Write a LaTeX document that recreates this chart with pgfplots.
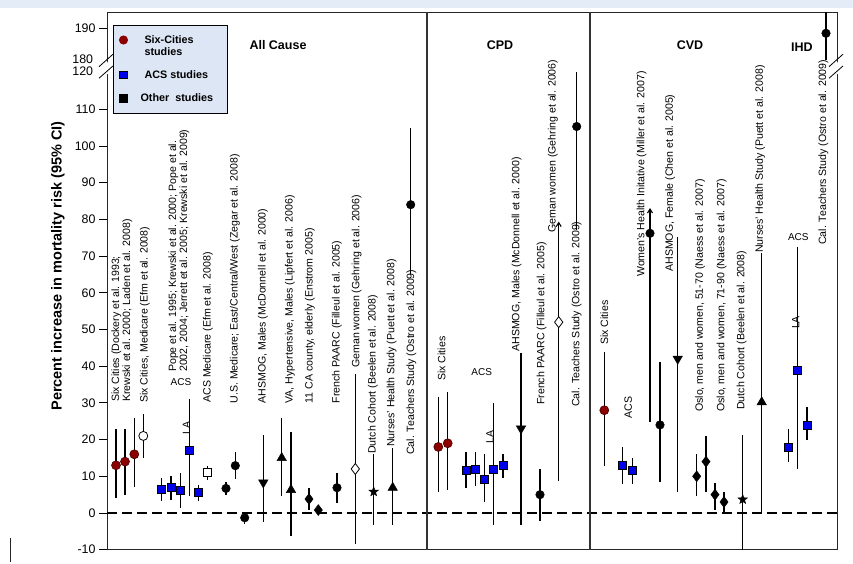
\documentclass[border=0pt]{standalone}
\usepackage{pgfplots}
\pgfplotsset{compat=1.18}
\usepackage{fontspec}
\setmainfont{Liberation Sans}
\usetikzlibrary{arrows.meta}
\definecolor{sixred}{RGB}{140,0,0}
\definecolor{acsblue}{RGB}{0,0,235}
\definecolor{legfill}{RGB}{220,230,244}
\definecolor{topstrip}{RGB}{228,236,248}
\pgfdeclareplotmark{fstar}{%
  \pgfpathmoveto{\pgfqpointpolar{90}{\pgfplotmarksize}}%
  \pgfpathlineto{\pgfqpointpolar{126}{0.42\pgfplotmarksize}}%
  \pgfpathlineto{\pgfqpointpolar{162}{\pgfplotmarksize}}%
  \pgfpathlineto{\pgfqpointpolar{198}{0.42\pgfplotmarksize}}%
  \pgfpathlineto{\pgfqpointpolar{234}{\pgfplotmarksize}}%
  \pgfpathlineto{\pgfqpointpolar{270}{0.42\pgfplotmarksize}}%
  \pgfpathlineto{\pgfqpointpolar{306}{\pgfplotmarksize}}%
  \pgfpathlineto{\pgfqpointpolar{342}{0.42\pgfplotmarksize}}%
  \pgfpathlineto{\pgfqpointpolar{18}{\pgfplotmarksize}}%
  \pgfpathlineto{\pgfqpointpolar{54}{0.42\pgfplotmarksize}}%
  \pgfpathclose\pgfusepathqfillstroke}
\pgfplotsset{
  ci/.style={forget plot, only marks,
    /pgfplots/error bars/y dir=both, /pgfplots/error bars/y explicit,
    /pgfplots/error bars/error mark=none,
    /pgfplots/error bars/error bar style={line width=1.2pt,black,solid}},
  redc/.style={ci, mark=*, mark size=4.5pt, mark options={fill=sixred, draw=black!50!sixred, line width=0.6pt}},
  bluesq/.style={ci, mark=square*, mark size=4pt, mark options={fill=acsblue, draw=black, line width=0.7pt}},
  blkc/.style={ci, mark=*, mark size=4.3pt, mark options={fill=black, draw=black}},
  openc/.style={ci, mark=*, mark size=4.5pt, mark options={fill=white, draw=black, line width=0.8pt}},
  opensq/.style={ci, mark=square*, mark size=4pt, mark options={fill=white, draw=black, line width=0.8pt}},
  tridown/.style={ci, mark=triangle*, mark size=5.5pt, mark options={fill=black, draw=black, rotate=180}},
  triup/.style={ci, mark=triangle*, mark size=5.5pt, mark options={fill=black, draw=black}},
  diam/.style={ci, mark=diamond*, mark size=5.5pt, mark options={fill=black, draw=black}},
  odiam/.style={ci, mark=diamond*, mark size=5.5pt, mark options={fill=white, draw=black, line width=0.8pt}},
  star/.style={ci, mark=fstar, mark size=5pt, mark options={fill=black, draw=black}},
}
\tikzset{
  lab/.style={rotate=90, anchor=west, inner sep=0pt, font=\fontsize{10.6}{11}\selectfont},
  hlab/.style={inner sep=0pt, font=\fontsize{10}{11}\selectfont},
  ttl/.style={inner sep=0pt, font=\bfseries\fontsize{12.5}{14}\selectfont},
}
\begin{document}
\begin{tikzpicture}
\useasboundingbox (0,0) rectangle (853pt,563pt);
\fill[topstrip] (0,555pt) rectangle (853pt,563pt);
\draw[line width=0.8pt, black!85] (10pt,1pt) -- (10pt,25pt);
\begin{axis}[
  at={(107pt,13.3pt)}, anchor=south west,
  scale only axis, width=730pt, height=537.7pt,
  xmin=107, xmax=837, ymin=-10, ymax=136.5,
  xtick=\empty, ytick pos=left,
  ytick={-10,0,10,20,30,40,50,60,70,80,90,100,110,132.07},
  yticklabels={-10,0,10,20,30,40,50,60,70,80,90,100,110,190},
  tick align=outside, major tick length=8pt,
  tick style={line width=0.8pt, black},
  yticklabel style={font=\fontsize{12.4}{14}\selectfont},
  axis line style={line width=0.9pt, black!85},
  clip=false,
  legend style={at={(axis cs:113,133)}, anchor=north west, fill=legfill, draw=black, line width=1pt,
    font=\bfseries\fontsize{10.8}{12}\selectfont, row sep=10pt, inner xsep=4pt, inner ysep=8pt,
    cells={anchor=west, align=left}},
  legend image code/.code={\path[draw=none,fill=none] (0pt,0pt) rectangle (25pt,0.1pt); \draw[#1] plot coordinates {(6pt,0pt)};},
]
% legend
\addlegendimage{only marks, mark=*, mark size=4pt, mark options={fill=sixred, draw=sixred, yshift=6pt}}
\addlegendentry{Six-Cities\\studies}
\addlegendimage{only marks, mark=square*, mark size=3.6pt, mark options={fill=acsblue, draw=black}}
\addlegendentry{ACS studies}
\addlegendimage{only marks, mark=square*, mark size=4pt, mark options={fill=black, draw=black}}
\addlegendentry{\hspace{-4pt}Other\ \ studies\hspace*{8pt}}

% reference lines
\addplot[forget plot, line width=1.2pt, dash pattern=on 10pt off 5pt] coordinates {(107,0) (837,0)};
\addplot[forget plot, line width=1.3pt, black!80] coordinates {(427,-10) (427,136.5)};
\addplot[forget plot, line width=1.3pt, black!80] coordinates {(590,-10) (590,136.5)};

% arrows (open-ended CIs)
\addplot[forget plot, line width=1.1pt, -{Straight Barb[length=4pt,width=5pt]}] coordinates {(558.7,8.7) (558.7,79.4)};
\addplot[forget plot, line width=1.1pt, -{Straight Barb[length=4pt,width=5pt]}] coordinates {(650,24.9) (650,83.1)};

% ---------------- All cause ----------------
\addplot[redc] coordinates {(116,13) += (0,10) -= (0,9) (125,14) += (0,9) -= (0,9) (134.3,16) += (0,10) -= (0,9)};
\addplot[openc] coordinates {(143.3,21) += (0,6) -= (0,6)};
\addplot[bluesq] coordinates {(161.7,6.5) += (0,3) -= (0,3.2) (171,6.9) += (0,3.1) -= (0,3.4) (180.3,6.1) += (0,4.8) -= (0,4.8) (189.3,17) += (0,14) -= (0,12.3) (198.7,5.5) += (0,2.1) -= (0,2.2)};
\addplot[opensq] coordinates {(207.7,11) += (0,1.9) -= (0,2)};
\addplot[blkc] coordinates {(226,6.7) += (0,1.8) -= (0,1.8) (235.3,12.9) += (0,3.8) -= (0,3.6) (244.7,-1.3) += (0,1.7) -= (0,1.7) (337,6.9) += (0,4) -= (0,4.1) (410.7,84) += (0,21) -= (0,19)};
\addplot[tridown] coordinates {(263.3,8.3) += (0,13) -= (0,10.7)};
\addplot[triup] coordinates {(281.7,15) += (0,11) -= (0,10.3) (291,6.3) += (0,15.7) -= (0,12.5) (392.7,6.9) += (0,10.8) -= (0,10.2)};
\addplot[diam] coordinates {(309,3.8) += (0,3) -= (0,3) (318.3,0.8) += (0,0.6) -= (0,1.1)};
\addplot[odiam] coordinates {(355.3,12) += (0,25.8) -= (0,20.5)};
\addplot[star] coordinates {(373.7,5.8) += (0,10.2) -= (0,9.1)};

% ---------------- CPD ----------------
\addplot[redc] coordinates {(438.3,18) += (0,13.7) -= (0,12.2) (447.7,19) += (0,14) -= (0,12.6)};
\addplot[bluesq] coordinates {(466,11.7) += (0,5) -= (0,5) (475.3,12) += (0,4.7) -= (0,4.6) (484.7,9.2) += (0,6.8) -= (0,6.1) (493.7,12) += (0,18) -= (0,15.3) (503,13) += (0,3) -= (0,3.6)};
\addplot[tridown] coordinates {(521,23) += (0,20.6) -= (0,26.3)};
\addplot[blkc] coordinates {(540,5) += (0,6.9) -= (0,7.2) (576.7,105.3) += (0,14.9) -= (0,28.3)};
\addplot[odiam] coordinates {(558.7,52) += (0,0) -= (0,43.3)};

% ---------------- CVD ----------------
\addplot[redc] coordinates {(604.3,28) += (0,16) -= (0,15.1)};
\addplot[bluesq] coordinates {(622.7,13) += (0,5) -= (0,5.1) (632.3,11.7) += (0,3.2) -= (0,3.8)};
\addplot[blkc] coordinates {(650,76.2) += (0,0) -= (0,0) (660,24) += (0,17.2) -= (0,15.5)};
\addplot[tridown] coordinates {(677.7,42) += (0,33.3) -= (0,36.2)};
\addplot[diam] coordinates {(696.7,10) += (0,6) -= (0,5.3) (706,14) += (0,7) -= (0,8.2) (715,5) += (0,3.1) -= (0,4.2) (724,3) += (0,2.8) -= (0,3)};
\addplot[star] coordinates {(742.7,3.7) += (0,17.5) -= (0,13.7)};
\addplot[triup] coordinates {(761.7,30.2) += (0,40.6) -= (0,30.2)};

% ---------------- IHD ----------------
\addplot[bluesq] coordinates {(788.3,17.8) += (0,5.2) -= (0,4) (797.7,38.8) += (0,33.8) -= (0,26.9) (807,24) += (0,5) -= (0,4.1)};
% Cal. Teachers IHD: 188 on the upper (broken) scale, drawn at 130.7
\addplot[blkc] coordinates {(826,130.7) += (0,5.8) -= (0,7.2)};

% axis break marks
\fill[white] (axis cs:104,121.4) -- (axis cs:110,123.8) -- (axis cs:110,120.6) -- (axis cs:104,118.3) -- cycle;
\draw[line width=0.8pt] (axis cs:99,121.6) -- (axis cs:113,125.0);
\draw[line width=0.8pt] (axis cs:99,118.45) -- (axis cs:113,121.8);
\fill[white] (axis cs:834,121.4) -- (axis cs:840,123.8) -- (axis cs:840,120.6) -- (axis cs:834,118.3) -- cycle;
\draw[line width=0.8pt] (axis cs:829,121.6) -- (axis cs:843,125.0);
\draw[line width=0.8pt] (axis cs:829,118.45) -- (axis cs:843,121.8);
\node[anchor=east, inner sep=0pt, font=\fontsize{12.4}{14}\selectfont] at (axis cs:93.3,123.7) {180};
\node[anchor=east, inner sep=0pt, font=\fontsize{12.4}{14}\selectfont] at (axis cs:93.3,120.4) {120};

% y label
\node[rotate=90, font=\bfseries\fontsize{14.5}{16}\selectfont] at (axis cs:58,67.3) {Percent increase in mortality risk (95\% CI)};

% panel titles
\node[ttl] at (axis cs:278,127.5) {All Cause};
\node[ttl] at (axis cs:500,127.5) {CPD};
\node[ttl] at (axis cs:690,127.4) {CVD};
\node[ttl] at (axis cs:802,126.8) {IHD};

% study labels: All cause
\node[lab, align=left] at (axis cs:122,30.2) {Six Cities (Dockery et al. 1993;\\Krewski et al. 2000; Laden et al. 2008)};
\node[lab] at (axis cs:145,30.0) {Six Cities, Medicare (Efm et al. 2008)};
\node[lab, align=left] at (axis cs:179,38.4) {Pope et al. 1995; Krewski et al. 2000; Pope et al.\\2002, 2004; Jerrett et al. 2005; Krewski et al. 2009)};
\node[hlab] at (axis cs:181,35.7) {ACS};
\node[lab, anchor=center] at (axis cs:186.5,23.2) {LA};
\node[lab] at (axis cs:208,30.0) {ACS Medicare (Efm et al. 2008)};
\node[lab] at (axis cs:235,29.8) {U.S. Medicare; East/Central/West (Zegar et al. 2008)};
\node[lab] at (axis cs:263,29.8) {AHSMOG, Males (McDonnell et al. 2000)};
\node[lab] at (axis cs:290,29.8) {VA, Hypertensive, Males (Lipfert et al. 2006)};
\node[lab] at (axis cs:310,29.8) {11 CA county, elderly (Enstrom 2005)};
\node[lab] at (axis cs:337,29.8) {French PAARC (Filleul et al. 2005)};
\node[lab] at (axis cs:356.7,39.5) {Geman women (Gehring et al. 2006)};
\node[lab] at (axis cs:373,16.1) {Dutch Cohort (Beelen et al. 2008)};
\node[lab] at (axis cs:391.7,18.0) {Nurses' Health Study (Puett et al. 2008)};
\node[lab] at (axis cs:411.5,15.8) {Cal. Teachers Study (Ostro et al. 2009)};
% CPD
\node[lab] at (axis cs:441.7,36.0) {Six Cities};
\node[hlab] at (axis cs:481.7,38.5) {ACS};
\node[lab, anchor=center] at (axis cs:490,20.8) {LA};
\node[lab] at (axis cs:516.7,43.9) {AHSMOG, Males (McDonnell et al. 2000)};
\node[lab] at (axis cs:541.7,29.4) {French PAARC (Filleul et al. 2005)};
\node[lab] at (axis cs:553,76.3) {Geman women (Gehring et al. 2006)};
\node[lab] at (axis cs:576.7,28.9) {Cal. Teachers Study (Ostro et al. 2009)};
% CVD
\node[lab] at (axis cs:604.3,45.8) {Six Cities};
\node[lab, anchor=center] at (axis cs:628.3,28.8) {ACS};
\node[lab] at (axis cs:641.7,64.3) {Women's Health Initative (Miller et al. 2007)};
\node[lab] at (axis cs:670,65.7) {AHSMOG, Female (Chen et al. 2005)};
\node[lab] at (axis cs:700,27.5) {Oslo, men and women, 51-70 (Naess et al. 2007)};
\node[lab] at (axis cs:721.7,27.5) {Oslo, men and women, 71-90 (Naess et al. 2007)};
\node[lab] at (axis cs:741.7,28.1) {Dutch Cohort (Beelen et al. 2008)};
\node[lab] at (axis cs:760,70.8) {Nurses' Health Study (Puett et al. 2008)};
% IHD
\node[hlab] at (axis cs:798.3,75.3) {ACS};
\node[lab, anchor=center] at (axis cs:795.7,51.9) {LA};
\node[lab] at (axis cs:823.3,73.0) {Cal. Teachers Study (Ostro et al. 2009)};
\end{axis}
\end{tikzpicture}
\end{document}
